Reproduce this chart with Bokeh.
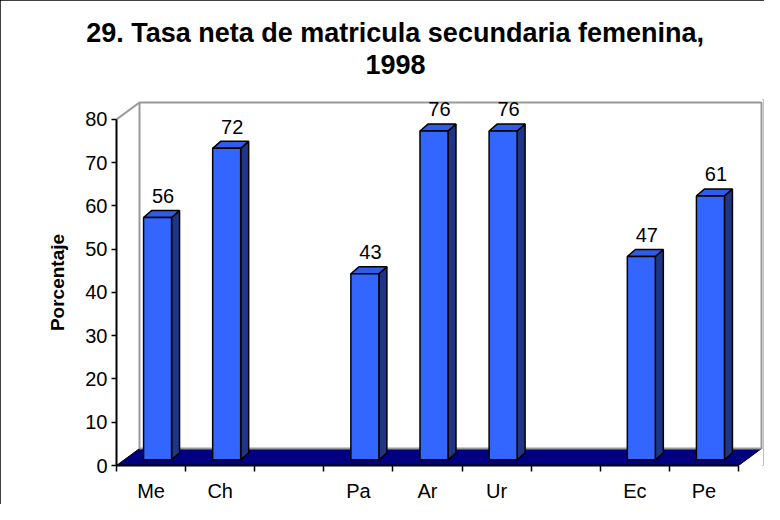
from bokeh.plotting import figure
from bokeh.models import Range1d, LinearAxis, FixedTicker, Title, ColumnDataSource
from bokeh.core.properties import value
from bokeh.embed import file_html
from bokeh.resources import INLINE

# ---- data ----
categories = ["Me", "Ch", "", "Pa", "Ar", "Ur", "", "Ec", "Pe"]
values = [56, 72, None, 43, 76, 76, None, 47, 61]
y_ticks = [0, 10, 20, 30, 40, 50, 60, 70, 80]
title_line1 = "29. Tasa neta de matricula secundaria femenina,"
title_line2 = "1998"
y_label = "Porcentaje"

# ---- geometry (pixel sizes converted to data units) ----
PX_X = 69.11   # px per category
PX_Y = 4.35    # px per percent
n = len(categories)
y_top = y_ticks[-1]
DX, DY = 23 / PX_X, 17 / PX_Y        # depth of floor / wall
OFX, OFY = 6.5 / PX_X, 5.7 / PX_Y    # bar front offset into depth
BDX, BDY = 8 / PX_X, 7 / PX_Y        # bar depth
BW = 28 / PX_X                        # bar front width
LAB_DX, LAB_DY = 12 / PX_X, 27.5 / PX_Y

W, H = 764, 504
ML, MR, MT, MB = 116, 1, 99, 37
FONT = "Liberation Sans"

p = figure(width=W, height=H, output_backend="svg", toolbar_location=None,
           x_range=Range1d(0, (W - ML - MR) / PX_X), y_range=Range1d(0, (H - MT - MB) / PX_Y),
           x_axis_type=None, y_axis_type=None,
           min_border_left=ML, min_border_right=MR, min_border_top=MT, min_border_bottom=MB)
p.outline_line_color = None
p.xgrid.visible = False
p.ygrid.visible = False
p.background_fill_color = "white"
p.border_fill_color = "white"
p.styles = {"outline": "2px solid black", "outline-offset": "-2px"}

# floor
p.patch([0, n, n + DX, DX], [0, 0, DY, DY], fill_color="#000080", line_color="black", line_width=1)
# back wall outline
p.line([DX, DX, n + DX, n + DX], [DY, y_top + DY, y_top + DY, DY], line_color="#999999", line_width=2)
p.line([DX, n + DX], [DY, DY], line_color="#999999", line_width=2)
p.line([0, DX], [y_top, y_top + DY], line_color="#999999", line_width=2)

# bars
front_xs, front_ys, side_xs, side_ys, top_xs, top_ys = [], [], [], [], [], []
lab_x, lab_y, lab_t = [], [], []
for i, v in enumerate(values):
    if v is None:
        continue
    cx = i + 0.5
    l = cx - BW / 2 + OFX
    r = cx + BW / 2 + OFX
    b = OFY
    t = v + OFY
    front_xs.append([l, r, r, l]); front_ys.append([b, b, t, t])
    side_xs.append([r, r + BDX, r + BDX, r]); side_ys.append([b, b + BDY, t + BDY, t])
    top_xs.append([l, r, r + BDX, l + BDX]); top_ys.append([t, t, t + BDY, t + BDY])
    lab_x.append(cx + LAB_DX); lab_y.append(v + LAB_DY); lab_t.append(str(v))

p.patches(side_xs, side_ys, fill_color="#1F3687", line_color="black", line_width=1.5)
p.patches(top_xs, top_ys, fill_color="#2F5CE8", line_color="black", line_width=1.5)
p.patches(front_xs, front_ys, fill_color="#3366FF", line_color="black", line_width=1.5)

src = ColumnDataSource(dict(x=lab_x, y=lab_y, t=lab_t))
p.text(x="x", y="y", text="t", source=src,
       text_align="center", text_baseline="alphabetic",
       text_font=value(FONT), text_font_size="20px", text_color="black")

# axes
yaxis = LinearAxis(ticker=FixedTicker(ticks=y_ticks), bounds=(0, y_top))
yaxis.axis_line_width = 2
yaxis.axis_line_color = "black"
yaxis.major_tick_out = 5
yaxis.major_tick_in = 0
yaxis.major_tick_line_width = 1.5
yaxis.minor_tick_line_color = None
yaxis.major_label_standoff = 4
yaxis.major_label_text_font = FONT
yaxis.major_label_text_font_size = "20px"
yaxis.major_label_text_color = "black"
yaxis.axis_label = y_label
yaxis.axis_label_text_font = FONT
yaxis.axis_label_text_font_size = "19px"
yaxis.axis_label_text_font_style = "bold"
yaxis.axis_label_text_color = "black"
yaxis.axis_label_standoff = 14
p.add_layout(yaxis, "left")

centers = [i + 0.5 for i in range(n)]
xaxis = LinearAxis(ticker=FixedTicker(ticks=centers, minor_ticks=list(range(n + 1))), bounds=(0, n))
xaxis.major_label_overrides = {c: lab for c, lab in zip(centers, categories)}
xaxis.axis_line_width = 2
xaxis.axis_line_color = "black"
xaxis.major_tick_line_color = None
xaxis.major_tick_out = 0
xaxis.major_tick_in = 0
xaxis.minor_tick_out = 6
xaxis.minor_tick_in = 0
xaxis.minor_tick_line_color = "black"
xaxis.minor_tick_line_width = 1.5
xaxis.major_label_standoff = 8
xaxis.major_label_text_font = FONT
xaxis.major_label_text_font_size = "20px"
xaxis.major_label_text_color = "black"
p.add_layout(xaxis, "below")

# title: stacked from the plot area upwards (spacer, line 2, line 1)
spacer = Title(text=".", text_font=FONT, text_font_size="10px", text_color="white", standoff=10)
t2 = Title(text=title_line2, align="left", offset=249, text_font=FONT,
           text_font_size="27px", text_font_style="bold", text_color="black", standoff=11)
t1 = Title(text=title_line1, align="left", offset=-30.3, text_font=FONT,
           text_font_size="27px", text_font_style="bold", text_color="black", standoff=0)
p.add_layout(spacer, "above")
p.add_layout(t2, "above")
p.add_layout(t1, "above")

open("out.html", "w").write(file_html(p, INLINE))
